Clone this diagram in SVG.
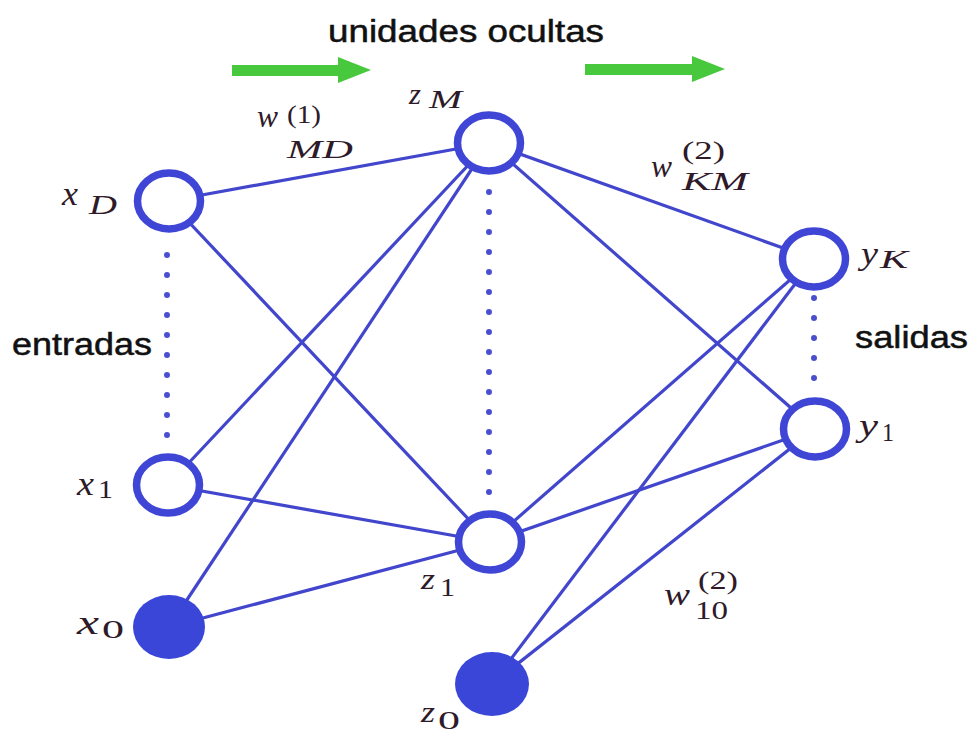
<svg xmlns="http://www.w3.org/2000/svg" width="971" height="736" viewBox="0 0 971 736">
<style>
.node{fill:#fff;stroke:#3f46d6;stroke-width:7.5}
.bias{fill:#3a46d8;stroke:none}
.edge{stroke:#4146cc;stroke-width:3.2;fill:none}
.dots{stroke:#4a4fd0;stroke-width:6;stroke-linecap:round;stroke-dasharray:0 20;fill:none}
.sans{font-family:"Liberation Sans",Arial,sans-serif;fill:#111;stroke:#111;stroke-width:0.5;font-size:31px}
.mi{font-family:"Liberation Serif","Times New Roman",serif;font-style:italic;fill:#2e1a28}
.mr{font-family:"Liberation Serif","Times New Roman",serif;fill:#2e1a28}
.arrow{fill:#48c83c}
</style>
<rect width="971" height="736" fill="#fff"/>
<g id="flow-arrows">
<path class="arrow" d="M232,65 L338,65 L338,57 L371,70 L338,83 L338,76 L232,76 Z"/>
<path class="arrow" d="M585,64 L692,64 L692,56 L725,69 L692,82 L692,75 L585,75 Z"/>
</g>
<g id="connectors">
<line class="edge" x1="169" y1="201" x2="489" y2="143"/>
<line class="edge" x1="169" y1="201" x2="490" y2="542"/>
<line class="edge" x1="168" y1="485" x2="489" y2="143"/>
<line class="edge" x1="168" y1="485" x2="490" y2="542"/>
<line class="edge" x1="169" y1="627" x2="489" y2="143"/>
<line class="edge" x1="169" y1="627" x2="490" y2="542"/>
<line class="edge" x1="489" y1="143" x2="814" y2="259"/>
<line class="edge" x1="489" y1="143" x2="815" y2="429"/>
<line class="edge" x1="490" y1="542" x2="814" y2="259"/>
<line class="edge" x1="490" y1="542" x2="815" y2="429"/>
<line class="edge" x1="492" y1="684" x2="814" y2="259"/>
<line class="edge" x1="492" y1="684" x2="815" y2="429"/>
<line class="dots" x1="167" y1="255" x2="167" y2="436"/>
<line class="dots" x1="489" y1="192" x2="489" y2="493"/>
<line class="dots" x1="814" y1="298" x2="814" y2="379"/>
</g>
<g id="node-xD"><ellipse class="node" cx="169" cy="201" rx="31.5" ry="28"/></g>
<g id="node-x1"><ellipse class="node" cx="168" cy="485" rx="31.5" ry="28"/></g>
<g id="node-x0"><ellipse class="bias" cx="169" cy="627" rx="36" ry="32"/></g>
<g id="node-zM"><ellipse class="node" cx="489" cy="143" rx="31.5" ry="28"/></g>
<g id="node-z1"><ellipse class="node" cx="490" cy="542" rx="31.5" ry="28"/></g>
<g id="node-z0"><ellipse class="bias" cx="492" cy="684" rx="37" ry="32"/></g>
<g id="node-yK"><ellipse class="node" cx="814" cy="259" rx="31.5" ry="28"/></g>
<g id="node-y1"><ellipse class="node" cx="815" cy="429" rx="31.5" ry="28"/></g>
<g id="labels">
<text class="sans" x="328" y="42" textLength="276" lengthAdjust="spacingAndGlyphs">unidades ocultas</text>
<text class="sans" x="12" y="355" textLength="140" lengthAdjust="spacingAndGlyphs">entradas</text>
<text class="sans" x="855" y="348" textLength="113" lengthAdjust="spacingAndGlyphs">salidas</text>
<text class="mi" x="62" y="205" font-size="33" textLength="16" lengthAdjust="spacingAndGlyphs">x</text>
<text class="mi" x="89" y="214" font-size="27" textLength="28" lengthAdjust="spacingAndGlyphs">D</text>
<text class="mi" x="409" y="104" font-size="30" textLength="12" lengthAdjust="spacingAndGlyphs">z</text>
<text class="mi" x="429" y="108" font-size="26" textLength="33" lengthAdjust="spacingAndGlyphs">M</text>
<text class="mi" x="257" y="127" font-size="32" textLength="21" lengthAdjust="spacingAndGlyphs">w</text>
<text class="mr" x="287" y="123" font-size="25" textLength="34" lengthAdjust="spacingAndGlyphs">(1)</text>
<text class="mi" x="287" y="158" font-size="26" textLength="66" lengthAdjust="spacingAndGlyphs">MD</text>
<text class="mi" x="651" y="177" font-size="32" textLength="21" lengthAdjust="spacingAndGlyphs">w</text>
<text class="mr" x="682" y="159" font-size="25" textLength="43" lengthAdjust="spacingAndGlyphs">(2)</text>
<text class="mi" x="682" y="190" font-size="26" textLength="66" lengthAdjust="spacingAndGlyphs">KM</text>
<text class="mi" x="861" y="264" font-size="32" textLength="17" lengthAdjust="spacingAndGlyphs">y</text>
<text class="mi" x="880" y="268" font-size="26" textLength="28" lengthAdjust="spacingAndGlyphs">K</text>
<text class="mi" x="859" y="436" font-size="32" textLength="19" lengthAdjust="spacingAndGlyphs">y</text>
<text class="mr" x="882" y="441" font-size="26" textLength="12" lengthAdjust="spacingAndGlyphs">1</text>
<text class="mi" x="77" y="495" font-size="33" textLength="17" lengthAdjust="spacingAndGlyphs">x</text>
<text class="mr" x="98" y="498" font-size="26" textLength="15" lengthAdjust="spacingAndGlyphs">1</text>
<text class="mi" x="77" y="634" font-size="33" textLength="22" lengthAdjust="spacingAndGlyphs">x</text>
<text class="mr" x="102" y="638" font-size="26" textLength="22" lengthAdjust="spacingAndGlyphs">0</text>
<text class="mi" x="421" y="589" font-size="30" textLength="14" lengthAdjust="spacingAndGlyphs">z</text>
<text class="mr" x="440" y="596" font-size="26" textLength="15" lengthAdjust="spacingAndGlyphs">1</text>
<text class="mi" x="421" y="722" font-size="30" textLength="14" lengthAdjust="spacingAndGlyphs">z</text>
<text class="mr" x="438" y="729" font-size="26" textLength="22" lengthAdjust="spacingAndGlyphs">0</text>
<text class="mi" x="664" y="605" font-size="32" textLength="26" lengthAdjust="spacingAndGlyphs">w</text>
<text class="mr" x="698" y="589" font-size="25" textLength="40" lengthAdjust="spacingAndGlyphs">(2)</text>
<text class="mr" x="695" y="619" font-size="26" textLength="33" lengthAdjust="spacingAndGlyphs">10</text>
</g>
</svg>
